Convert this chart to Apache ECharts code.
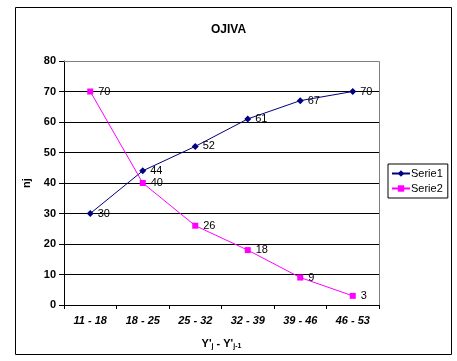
<!DOCTYPE html>
<html><head><meta charset="utf-8">
<script src="https://cdn.jsdelivr.net/npm/echarts@6/dist/echarts.min.js"></script>
<style>html,body{margin:0;padding:0;background:#fff}#c{width:457px;height:361px}</style>
</head><body><div id="c"></div>
<script>
var categories = ['11 - 18','18 - 25','25 - 32','32 - 39','39 - 46','46 - 53'];
var serie1 = [30,44,52,61,67,70];
var serie2 = [70,40,26,18,9,3];
var yTicks = [0,10,20,30,40,50,60,70,80];

var chart = echarts.init(document.getElementById('c'), null, {renderer:'canvas'});
var F = 'Arial, "Liberation Sans", sans-serif';
chart.setOption({
  animation:false,
  backgroundColor:'#fff',
  title:{text:'OJIVA', left:'center', top:19, textStyle:{fontFamily:F, fontSize:12, fontWeight:'bold', color:'#000'}},
  graphic:[
    {type:'rect', shape:{x:15.5,y:7.5,width:436,height:347}, style:{fill:null, stroke:'#000', lineWidth:1}, z:-1},
    {type:'polyline', shape:{points:[[64,61.5],[379.5,61.5],[379.5,305]]}, style:{stroke:'#808080', lineWidth:1, fill:null}, z:1}
  ],
  legend:{
    orient:'vertical', left:388, top:164, itemGap:4, itemWidth:18, itemHeight:8,
    padding:[4,5,4,3], borderColor:'#000', borderWidth:1,
    textStyle:{fontFamily:F, fontSize:11, color:'#000', padding:[0,0,0,-4]},
    data:['Serie1','Serie2']
  },
  grid:{left:64, right:78, top:61, bottom:56, containLabel:false},
  xAxis:{
    type:'category', data:categories, boundaryGap:true,
    axisLine:{lineStyle:{color:'#000', width:1}},
    axisTick:{show:true, length:4, inside:false, lineStyle:{color:'#000'}},
    axisLabel:{fontFamily:F, fontSize:11, fontWeight:'bold', fontStyle:'italic', color:'#000', margin:10},
    name:"{a|Y'}{s|j}{a| - Y'}{s|j-1}", nameLocation:'middle', nameGap:32,
    nameTextStyle:{rich:{a:{fontFamily:F, fontSize:11, fontWeight:'bold', color:'#000'}, s:{fontFamily:F, fontSize:7, fontWeight:'bold', color:'#000', padding:[6,0,0,0]}}}
  },
  yAxis:{
    type:'value', min:0, max:80, interval:10,
    axisLine:{show:true, lineStyle:{color:'#000', width:1}},
    axisTick:{show:true, length:5, lineStyle:{color:'#000'}},
    axisLabel:{fontFamily:F, fontSize:11, fontWeight:'bold', color:'#000', margin:8,
      formatter:function(v){return yTicks.indexOf(v)>=0?String(v):'';}},
    splitLine:{show:true, lineStyle:{color:'#000', width:1}},
    name:'nj', nameLocation:'middle', nameGap:24, nameRotate:90,
    nameTextStyle:{fontFamily:F, fontSize:11, fontWeight:'bold', color:'#000'}
  },
  series:[
    {name:'Serie1', type:'line', data:serie1, color:'#000080',
      symbol:'diamond', symbolSize:7, showAllSymbol:true,
      lineStyle:{color:'#000080', width:1}, itemStyle:{color:'#000080'},
      label:{show:true, position:'right', distance:4, fontFamily:F, fontSize:11, color:'#000'}},
    {name:'Serie2', type:'line', data:serie2, color:'#ff00ff',
      symbol:'rect', symbolSize:6, showAllSymbol:true,
      lineStyle:{color:'#ff00ff', width:1}, itemStyle:{color:'#ff00ff'},
      label:{show:true, position:'right', distance:5, fontFamily:F, fontSize:11, color:'#000'}}
  ]
});
</script></body></html>
